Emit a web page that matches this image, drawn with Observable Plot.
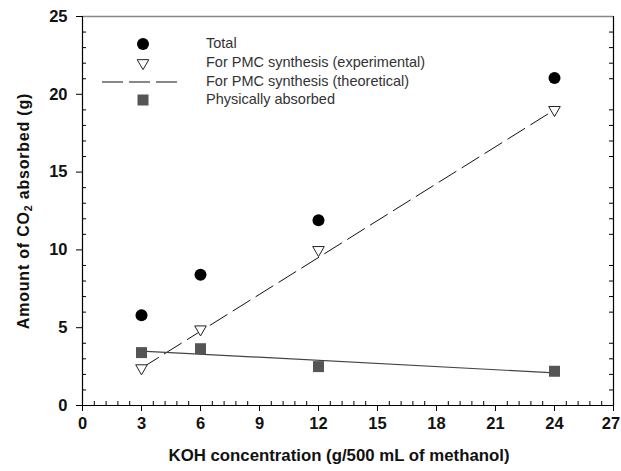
<!DOCTYPE html>
<html>
<head>
<meta charset="utf-8">
<script src="https://cdn.jsdelivr.net/npm/d3@7"></script>
<script src="https://cdn.jsdelivr.net/npm/@observablehq/plot@0.6"></script>
<style>
  html, body { margin: 0; padding: 0; background: #fff; }
  #chart svg { display: block; }
</style>
</head>
<body>
<div id="chart"></div>
<script>
// ---- data ----
const koh = [3, 6, 12, 24];
const total = [5.8, 8.4, 11.9, 21.05];
const pmcExperimental = [2.4, 4.9, 10.0, 19.0];
const physical = [3.4, 3.65, 2.5, 2.2];
const theoreticalX = [3, 24];
const theoreticalY = [2.4, 19.0];
const physicalFitX = [3, 24];
const physicalFitY = [3.5, 2.1];

const xTicks = [0, 3, 6, 9, 12, 15, 18, 21, 24, 27];
const yTicks = [0, 5, 10, 15, 20, 25];
const xMinor = d3.range(0, 27.001, 0.6).filter(v => Math.abs(v / 3 - Math.round(v / 3)) > 1e-6);
const yMinor = d3.range(0, 25.001, 1).filter(v => v % 5 !== 0);

const legendLabels = ["Total", "For PMC synthesis (experimental)", "For PMC synthesis (theoretical)", "Physically absorbed"];
const xTitle = "KOH concentration (g/500 mL of methanol)";

const pts = (xs, ys) => xs.map((x, i) => ({x, y: ys[i]}));

const W = 621, H = 471;
const mL = 82, mR = 8, mT = 16, mB = 66;
const plotW = W - mL - mR, plotH = H - mT - mB;
const font = "'Liberation Sans', Arial, sans-serif";

const chart = Plot.plot({
  width: W,
  height: H,
  marginLeft: mL,
  marginRight: mR,
  marginTop: mT,
  marginBottom: mB,
  style: {fontFamily: font, background: "#fff"},
  x: {domain: [0, 27]},
  y: {domain: [0, 25]},
  marks: [
    // minor ticks (inward)
    Plot.ruleX(xMinor, {insetTop: plotH - 4, stroke: "#000", strokeWidth: 1}),
    Plot.ruleY(yMinor, {insetRight: plotW - 4, stroke: "#000", strokeWidth: 1}),
    Plot.ruleY(yMinor, {insetLeft: plotW - 4, stroke: "#000", strokeWidth: 1}),
    // frame
    Plot.ruleY([25], {stroke: "#888", strokeWidth: 1.5}),
    Plot.ruleX([27], {stroke: "#000", strokeWidth: 1.2}),
    Plot.ruleX([0], {stroke: "#000", strokeWidth: 1.2}),
    Plot.ruleY([0], {stroke: "#000", strokeWidth: 1.2}),
    // axes
    Plot.axisX({ticks: xTicks, tickSize: 6, tickPadding: 6, fontSize: 16.5, fontWeight: "bold", fill: "#111", label: null}),
    Plot.axisY({ticks: yTicks, tickSize: 6, tickPadding: 9, fontSize: 16.5, fontWeight: "bold", fill: "#111", label: null}),
    Plot.text([xTitle], {frameAnchor: "bottom", dy: 50, dx: -9, fontSize: 16.8, fontWeight: "bold", fill: "#111", lineAnchor: "middle"}),
    // fitted lines
    Plot.line(pts(theoreticalX, theoreticalY), {x: "x", y: "y", stroke: "#111", strokeWidth: 1, strokeDasharray: "20,7"}),
    Plot.line(pts(physicalFitX, physicalFitY), {x: "x", y: "y", stroke: "#444", strokeWidth: 1.2}),
    // points
    Plot.dot(pts(koh, total), {x: "x", y: "y", r: 6, fill: "#000", stroke: "none"}),
    Plot.dot(pts(koh, pmcExperimental), {x: "x", y: "y", r: 4.3, symbol: "triangle", rotate: 180, fill: "#fff", stroke: "#222", strokeWidth: 1}),
    Plot.dot(pts(koh, physical), {x: "x", y: "y", r: 6.2, symbol: "square", fill: "#555", stroke: "none"})
  ]
});

const svg = d3.select(chart);

// keep the last x tick label ("27") inside the picture
const xLabels = svg.selectAll("g[aria-label='x-axis tick label'] text").nodes();
if (xLabels.length) {
  const last = d3.select(xLabels[xLabels.length - 1]);
  last.attr("dx", -2.5);
}

// y-axis title with subscript
const yt = svg.append("text")
  .attr("transform", "translate(25,211) rotate(-90)")
  .attr("text-anchor", "middle")
  .attr("font-family", font)
  .attr("font-size", 16)
  .attr("letter-spacing", 0.8)
  .attr("font-weight", "bold")
  .attr("fill", "#111")
  .attr("dominant-baseline", "middle");
yt.append("tspan").text("Amount of CO");
yt.append("tspan").attr("font-size", 10.5).attr("dy", 4).text("2");
yt.append("tspan").attr("dy", -4).text(" absorbed (g)");

// legend
const lg = svg.append("g").attr("font-family", font).attr("font-size", 14.5).attr("fill", "#333").attr("text-anchor", "start");
const rowY = [44, 63, 82, 100];
const symX = 143, textX = 206;
lg.append("circle").attr("cx", symX).attr("cy", rowY[0]).attr("r", 6).attr("fill", "#000");
lg.append("path").attr("d", d3.symbol(d3.symbolTriangle, Math.PI * 4.3 * 4.3)())
  .attr("transform", `translate(${symX},${rowY[1]}) rotate(180)`)
  .attr("fill", "#fff").attr("stroke", "#222");
lg.append("line").attr("x1", 102).attr("x2", 178).attr("y1", rowY[2]).attr("y2", rowY[2])
  .attr("stroke", "#111").attr("stroke-dasharray", "21,6");
lg.append("rect").attr("x", symX - 5.5).attr("y", rowY[3] - 5.5).attr("width", 11).attr("height", 11).attr("fill", "#555");
legendLabels.forEach((t, i) => {
  lg.append("text").attr("x", textX).attr("y", rowY[i]).attr("dominant-baseline", "middle").text(t);
});

document.getElementById("chart").appendChild(chart);
</script>
</body>
</html>
